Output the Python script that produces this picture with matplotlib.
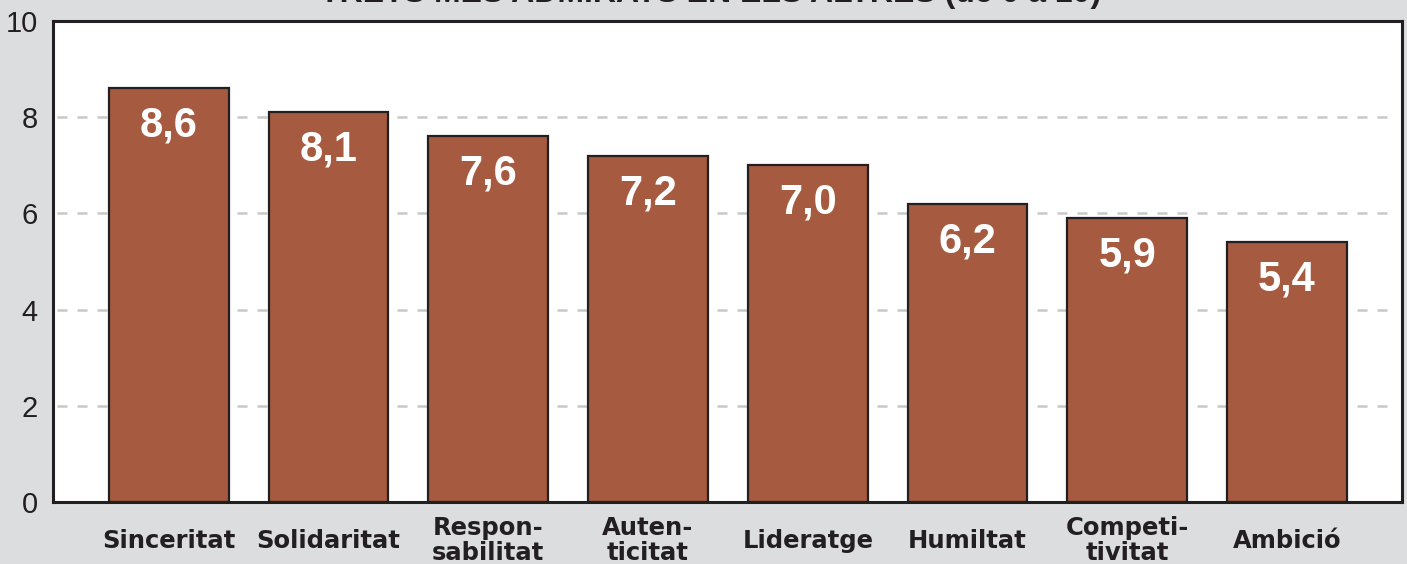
import matplotlib.pyplot as plt

# data
traits = ['Sinceritat', 'Solidaritat', 'Respon-\nsabilitat', 'Auten-\nticitat',
          'Lideratge', 'Humiltat', 'Competi-\ntivitat', 'Ambició']
scores = [8.6, 8.1, 7.6, 7.2, 7.0, 6.2, 5.9, 5.4]
value_labels = ['8,6', '8,1', '7,6', '7,2', '7,0', '6,2', '5,9', '5,4']
y_ticks = [0, 2, 4, 6, 8, 10]
grid_levels = [2, 4, 6, 8]

BG = '#dcdddf'
BAR = '#a65b40'
DARK = '#231f20'

W, H = 1407, 564
fig = plt.figure(figsize=(W / 100, H / 100), dpi=100, facecolor=BG)
ax = fig.add_axes([53 / W, (H - 502) / H, (1402 - 53) / W, (502 - 21) / H])
ax.set_facecolor('white')

x = list(range(len(traits)))
ax.hlines(grid_levels, -0.7, 7.64, colors='#c8c8c8', linestyles=(0, (4, 4)),
          linewidth=1.8, zorder=1)
bars = ax.bar(x, scores, width=0.75, color=BAR, edgecolor=DARK, linewidth=1.6, zorder=2)

for b, lab in zip(bars, value_labels):
    ax.annotate(lab, (b.get_x() + b.get_width() / 2, b.get_height()),
                xytext=(0, -27), textcoords='offset points', ha='center', va='center',
                color='white', fontsize=30, fontweight='bold', family='Liberation Sans',
                zorder=3)

ax.set_xlim(-0.725, 7.72)
ax.set_ylim(0, 10)
ax.set_yticks(y_ticks)
ax.set_yticklabels([str(t) for t in y_ticks], family='Liberation Sans', fontsize=21, color=DARK)
ax.set_xticks(x)
ax.set_xticklabels(traits, family='DejaVu Sans', fontweight='bold', fontsize=17.5,
                   color=DARK, linespacing=1.05)
for t in ax.get_xticklabels():
    t.set_verticalalignment('center')
ax.tick_params(axis='x', length=0, pad=28)
ax.tick_params(axis='y', length=0, pad=11)

for s in ax.spines.values():
    s.set_color(DARK)
    s.set_linewidth(2.2)

fig.text(0.505, 1 - 2 / H, 'TRETS MÉS ADMIRATS EN ELS ALTRES (de 0 a 10)',
         ha='center', va='baseline', fontsize=23, fontweight='bold',
         family='Liberation Sans', color=DARK)

fig.savefig('out.png', dpi=100, facecolor=BG)
